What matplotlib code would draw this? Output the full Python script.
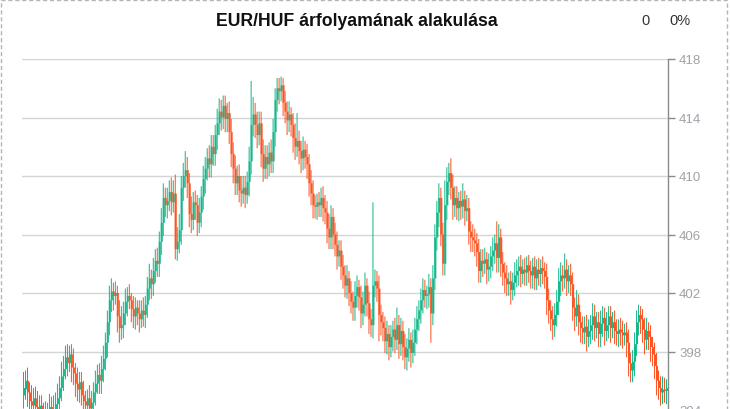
import matplotlib
matplotlib.use("Agg")
import matplotlib.pyplot as plt
from matplotlib.patches import Rectangle

title = "EUR/HUF árfolyamának alakulása"
change_abs = "0"
change_pct = "0%"
y_ticks = [394, 398, 402, 406, 410, 414, 418]

opens = [
    395.0, 395.4, 396.0, 395.2, 394.6, 394.3, 394.8, 394.2, 393.8, 394.3,
    393.9, 393.5, 393.7, 393.9, 394.2, 393.6, 394.0, 394.4, 394.8, 395.5,
    396.3, 396.8, 397.6, 397.2, 397.8, 396.9, 396.5, 395.8, 395.4, 395.9,
    395.0, 394.6, 394.3, 394.8, 394.1, 394.5, 395.2, 395.8, 396.4, 396.0,
    396.8, 397.5, 398.6, 400.0, 401.5, 402.1, 401.8, 402.0, 400.4, 399.6,
    399.8, 400.6, 401.4, 401.8, 401.5, 400.9, 400.4, 401.0, 400.6, 400.2,
    400.8, 400.5, 401.2, 402.3, 403.0, 402.6, 403.5, 404.2, 404.0, 405.5,
    406.8, 408.5, 408.0, 408.3, 408.9, 408.2, 408.8, 405.0, 405.5, 406.3,
    409.2, 410.0, 410.4, 409.5, 407.4, 407.0, 408.2, 408.0, 406.8, 407.5,
    408.6, 409.8, 410.5, 411.2, 410.8, 412.0, 411.5, 412.8, 413.6, 414.4,
    414.0, 414.8, 413.9, 414.3, 413.0, 411.5, 410.5, 409.5, 410.0, 409.0,
    408.8, 409.2, 408.7, 409.6, 411.0, 413.5, 414.2, 413.5, 412.8, 413.6,
    411.5, 410.5, 411.3, 410.8, 411.6, 411.0, 413.0, 415.2, 416.0, 415.8,
    416.2, 415.0, 414.4, 413.8, 414.2, 413.5, 412.6, 412.0, 412.4, 411.7,
    411.2, 411.8, 411.3, 410.8, 409.5, 408.8, 408.0, 407.9, 408.2, 408.0,
    408.5, 407.8, 407.5, 406.4, 405.8, 407.2, 406.0, 405.3, 404.5, 404.9,
    403.8, 403.2, 402.5, 403.0, 402.0, 401.4, 401.0, 401.8, 402.4, 401.7,
    400.6, 401.2, 402.5, 401.3, 400.2, 399.8, 402.5, 402.8, 402.3, 400.5,
    400.0, 399.6, 398.7, 399.2, 398.3, 399.0, 399.5, 398.8, 399.8, 398.5,
    399.4, 398.3, 397.6, 398.2, 398.8, 397.9, 398.6, 399.5, 400.2, 400.8,
    401.5, 402.2, 401.8, 401.9, 402.4, 400.6, 403.0, 405.8, 407.5, 408.5,
    406.0, 404.0, 408.0, 409.6, 410.2, 409.2, 408.0, 408.5, 407.8, 408.3,
    407.9, 408.4, 407.6, 407.8, 406.2, 405.8, 405.6, 405.4, 404.8, 403.5,
    404.2, 404.0, 404.3, 403.6, 403.8, 404.5, 404.9, 405.4, 404.4, 405.8,
    404.0, 403.4, 403.0, 402.6, 402.8, 402.2, 402.7, 403.2, 403.5, 403.8,
    403.3, 403.6, 403.4, 403.9, 403.5, 403.2, 403.8, 403.0, 403.6, 403.3,
    403.7, 403.5, 403.1, 401.5, 400.8, 400.2, 399.8, 400.5, 401.4, 402.8,
    403.2, 403.0, 403.6, 402.8, 403.2, 402.6, 401.0, 400.4, 401.2, 400.0,
    399.6, 399.3, 399.7, 399.0, 399.4, 399.8, 400.4, 399.6, 400.0, 399.2,
    399.9, 400.3, 399.4, 399.8, 400.4, 399.6, 400.0, 399.4, 399.2, 399.5,
    399.3, 399.1, 399.3, 398.6, 397.2, 396.7, 397.3, 398.5, 400.0, 400.5,
    400.2, 399.5, 398.8, 399.4, 399.0, 398.3, 397.8, 397.0, 396.0, 395.5,
    395.2, 395.4, 395.3,
]

highs = [
    396.6, 396.7, 396.9, 395.9, 395.7, 395.5, 395.6, 395.3, 395.0, 395.0,
    394.5, 394.6, 394.5, 395.1, 394.9, 395.0, 395.2, 395.8, 396.3, 397.3,
    397.7, 398.4, 398.5, 398.4, 398.5, 398.2, 397.2, 396.9, 396.6, 396.6,
    396.0, 395.3, 395.4, 395.7, 395.3, 395.9, 396.7, 397.1, 397.2, 397.7,
    398.4, 399.3, 400.8, 402.5, 403.0, 402.7, 402.8, 402.5, 401.5, 401.1,
    401.4, 402.3, 402.4, 402.6, 402.0, 401.8, 401.7, 401.5, 401.5, 401.5,
    401.7, 401.8, 403.1, 404.0, 403.6, 404.4, 405.0, 405.1, 406.2, 407.8,
    409.5, 409.2, 409.2, 409.7, 409.9, 409.7, 410.1, 406.5, 407.4, 410.0,
    410.9, 411.7, 411.3, 410.2, 408.6, 408.9, 409.0, 408.7, 408.5, 409.3,
    410.7, 411.3, 411.9, 412.1, 412.8, 412.8, 413.5, 414.6, 415.3, 415.2,
    415.5, 415.5, 415.0, 415.1, 413.9, 412.3, 411.4, 410.7, 410.8, 410.0,
    410.0, 410.0, 410.3, 412.0, 416.5, 415.4, 415.0, 414.4, 414.4, 414.4,
    412.5, 412.1, 412.1, 412.3, 412.5, 413.9, 416.0, 416.7, 416.7, 416.8,
    416.7, 415.8, 415.1, 415.1, 414.7, 414.3, 413.6, 414.3, 413.1, 412.4,
    412.7, 412.4, 412.2, 411.5, 410.4, 409.7, 408.7, 408.8, 408.9, 409.2,
    409.3, 408.7, 408.3, 407.4, 408.0, 407.8, 406.8, 406.2, 405.6, 405.6,
    404.6, 403.9, 403.9, 403.5, 402.8, 402.1, 402.8, 403.2, 402.9, 402.5,
    402.1, 403.4, 403.0, 402.1, 400.9, 408.2, 403.6, 403.5, 403.2, 401.2,
    400.7, 400.4, 400.1, 399.8, 399.8, 400.1, 400.3, 401.0, 400.5, 400.3,
    400.1, 399.2, 398.9, 399.6, 399.3, 399.5, 400.3, 401.1, 401.5, 402.3,
    403.0, 402.9, 402.5, 403.3, 403.0, 403.9, 406.7, 408.3, 409.5, 409.2,
    406.8, 409.7, 410.6, 410.9, 411.2, 410.1, 409.3, 409.3, 408.9, 409.0,
    409.5, 409.0, 408.7, 408.5, 406.9, 406.7, 406.4, 406.1, 405.7, 405.0,
    405.0, 405.1, 404.8, 404.7, 405.2, 405.8, 406.0, 406.9, 406.7, 406.4,
    404.8, 404.1, 403.9, 403.4, 403.5, 403.4, 404.1, 404.3, 404.5, 404.6,
    404.3, 404.4, 404.5, 404.6, 404.2, 404.4, 404.5, 404.3, 404.4, 404.3,
    404.5, 404.1, 404.0, 402.3, 401.5, 401.1, 401.3, 402.2, 403.7, 404.1,
    403.9, 404.7, 404.3, 403.9, 404.0, 403.4, 401.7, 402.2, 401.9, 400.7,
    400.4, 400.4, 400.5, 400.2, 400.5, 401.3, 401.2, 400.7, 400.7, 400.8,
    401.1, 401.0, 400.7, 401.1, 401.1, 400.7, 400.8, 400.2, 400.2, 400.3,
    400.1, 399.9, 400.0, 399.5, 397.9, 398.1, 399.3, 400.8, 401.2, 401.1,
    400.9, 400.3, 400.3, 400.0, 399.8, 399.0, 398.6, 397.9, 396.7, 396.3,
    396.3, 396.2, 396.1,
]

lows = [
    394.1, 394.7, 394.2, 393.9, 393.6, 393.4, 393.4, 392.9, 393.2, 392.9,
    392.7, 392.7, 393.1, 393.0, 392.8, 392.8, 393.4, 393.5, 394.0, 394.6,
    395.3, 396.1, 396.3, 396.6, 395.9, 395.7, 394.9, 394.6, 394.5, 394.3,
    393.8, 393.4, 393.4, 393.4, 393.3, 393.8, 394.3, 395.1, 395.1, 395.1,
    395.9, 396.7, 397.6, 399.1, 400.7, 400.8, 401.2, 399.3, 398.6, 398.8,
    398.9, 399.8, 400.4, 400.9, 400.0, 399.6, 399.5, 399.8, 399.3, 399.6,
    399.7, 399.6, 400.3, 401.5, 401.6, 401.8, 402.7, 403.1, 403.1, 404.6,
    405.9, 407.2, 407.1, 407.6, 407.3, 407.5, 404.3, 404.2, 404.7, 405.3,
    408.3, 409.2, 408.5, 406.5, 406.1, 406.3, 407.0, 405.9, 406.1, 406.5,
    407.7, 408.8, 409.7, 409.9, 409.9, 410.7, 410.7, 411.8, 412.8, 413.1,
    413.2, 413.0, 413.0, 412.2, 410.6, 409.5, 408.7, 408.7, 408.2, 407.9,
    408.1, 407.8, 408.1, 408.6, 410.1, 412.7, 412.6, 411.9, 412.1, 410.6,
    409.6, 409.8, 409.8, 410.0, 410.2, 410.2, 412.0, 414.4, 414.9, 415.1,
    414.1, 413.6, 412.8, 413.0, 412.7, 411.6, 411.1, 411.3, 410.8, 410.2,
    410.4, 410.5, 409.8, 408.6, 408.0, 407.1, 407.1, 407.0, 407.2, 407.2,
    406.9, 406.7, 405.4, 405.0, 405.0, 405.0, 404.5, 403.6, 403.8, 402.9,
    402.3, 401.7, 401.6, 401.1, 400.6, 400.1, 400.1, 401.0, 400.8, 399.6,
    399.8, 400.4, 400.4, 399.2, 399.0, 398.9, 401.7, 401.4, 398.7, 399.1,
    398.7, 397.9, 397.8, 397.4, 397.6, 398.0, 397.9, 398.1, 397.5, 397.7,
    397.4, 396.8, 396.7, 397.3, 396.9, 397.2, 397.7, 398.5, 399.4, 399.9,
    400.6, 401.0, 400.9, 401.0, 398.6, 399.8, 402.2, 404.9, 406.5, 405.2,
    403.2, 403.2, 407.0, 408.7, 408.4, 407.0, 407.2, 407.0, 406.9, 407.0,
    407.1, 406.6, 406.9, 405.3, 404.8, 404.8, 404.5, 403.8, 402.7, 402.7,
    403.1, 403.3, 402.6, 402.8, 403.0, 403.5, 404.0, 403.4, 403.4, 403.1,
    402.5, 402.0, 401.8, 401.8, 401.2, 401.5, 401.8, 402.4, 402.5, 402.4,
    402.6, 402.5, 402.5, 402.7, 402.3, 402.3, 402.2, 402.2, 402.5, 402.4,
    402.6, 402.3, 400.5, 399.9, 399.4, 398.8, 399.0, 399.7, 400.5, 401.8,
    402.1, 402.3, 401.8, 402.0, 401.8, 400.1, 399.4, 399.7, 399.1, 398.6,
    398.5, 398.5, 398.0, 398.3, 398.5, 398.8, 398.7, 398.9, 398.3, 398.3,
    399.0, 398.4, 398.7, 398.9, 398.6, 398.9, 398.5, 398.4, 398.3, 398.4,
    398.2, 398.4, 397.6, 396.3, 395.9, 395.9, 396.3, 397.7, 399.1, 399.2,
    398.6, 397.8, 398.1, 398.1, 397.3, 397.0, 396.1, 395.0, 394.7, 394.3,
    394.4, 394.5, 394.4,
]

closes = [
    395.5, 396.0, 395.2, 394.6, 394.3, 394.8, 394.2, 393.8, 394.3, 393.9,
    393.5, 393.7, 393.9, 394.2, 393.6, 394.0, 394.4, 394.8, 395.5, 396.3,
    396.8, 397.6, 397.2, 397.8, 396.9, 396.5, 395.8, 395.4, 395.9, 395.0,
    394.6, 394.3, 394.8, 394.1, 394.5, 395.2, 395.8, 396.4, 396.0, 396.8,
    397.5, 398.6, 400.0, 401.5, 402.1, 401.8, 402.0, 400.4, 399.6, 399.8,
    400.6, 401.4, 401.8, 401.5, 400.9, 400.4, 401.0, 400.6, 400.2, 400.8,
    400.5, 401.2, 402.3, 403.0, 402.6, 403.5, 404.2, 404.0, 405.5, 406.8,
    408.5, 408.0, 408.3, 408.9, 408.2, 408.8, 405.0, 405.5, 406.3, 409.2,
    410.0, 410.4, 409.5, 407.4, 407.0, 408.2, 408.0, 406.8, 407.5, 408.6,
    409.8, 410.5, 411.2, 410.8, 412.0, 411.5, 412.8, 413.6, 414.4, 414.0,
    414.8, 413.9, 414.3, 413.0, 411.5, 410.5, 409.5, 410.0, 409.0, 408.8,
    409.2, 408.7, 409.6, 411.0, 413.5, 414.2, 413.5, 412.8, 413.6, 411.5,
    410.5, 411.3, 410.8, 411.6, 411.0, 413.0, 415.2, 416.0, 415.8, 416.2,
    415.0, 414.4, 413.8, 414.2, 413.5, 412.6, 412.0, 412.4, 411.7, 411.2,
    411.8, 411.3, 410.8, 409.5, 408.8, 408.0, 407.9, 408.2, 408.0, 408.5,
    407.8, 407.5, 406.4, 405.8, 407.2, 406.0, 405.3, 404.5, 404.9, 403.8,
    403.2, 402.5, 403.0, 402.0, 401.4, 401.0, 401.8, 402.4, 401.7, 400.6,
    401.2, 402.5, 401.3, 400.2, 399.8, 402.5, 402.8, 402.3, 400.5, 400.0,
    399.6, 398.7, 399.2, 398.3, 399.0, 399.5, 398.8, 399.8, 398.5, 399.4,
    398.3, 397.6, 398.2, 398.8, 397.9, 398.6, 399.5, 400.2, 400.8, 401.5,
    402.2, 401.8, 401.9, 402.4, 400.6, 403.0, 405.8, 407.5, 408.5, 406.0,
    404.0, 408.0, 409.6, 410.2, 409.2, 408.0, 408.5, 407.8, 408.3, 407.9,
    408.4, 407.6, 407.8, 406.2, 405.8, 405.6, 405.4, 404.8, 403.5, 404.2,
    404.0, 404.3, 403.6, 403.8, 404.5, 404.9, 405.4, 404.4, 405.8, 404.0,
    403.4, 403.0, 402.6, 402.8, 402.2, 402.7, 403.2, 403.5, 403.8, 403.3,
    403.6, 403.4, 403.9, 403.5, 403.2, 403.8, 403.0, 403.6, 403.3, 403.7,
    403.5, 403.1, 401.5, 400.8, 400.2, 399.8, 400.5, 401.4, 402.8, 403.2,
    403.0, 403.6, 402.8, 403.2, 402.6, 401.0, 400.4, 401.2, 400.0, 399.6,
    399.3, 399.7, 399.0, 399.4, 399.8, 400.4, 399.6, 400.0, 399.2, 399.9,
    400.3, 399.4, 399.8, 400.4, 399.6, 400.0, 399.4, 399.2, 399.5, 399.3,
    399.1, 399.3, 398.6, 397.2, 396.7, 397.3, 398.5, 400.0, 400.5, 400.2,
    399.5, 398.8, 399.4, 399.0, 398.3, 397.8, 397.0, 396.0, 395.5, 395.2,
    395.4, 395.3, 395.5,
]

UP = "#14b88c"
DOWN = "#fc5424"

W, H = 730, 410
fig = plt.figure(figsize=(W / 100, H / 100), dpi=100)
plt.rcParams['font.family'] = ['Liberation Sans', 'DejaVu Sans']

# plot area: x 22..668 px, 418 at y=60 px, 14.625 px per unit
ymin, ymax = 390, 418
px_per_unit = 58.5 / 4
top_px = 60
bottom_px = top_px + (ymax - ymin) * px_per_unit
ax = fig.add_axes([22 / W, 1 - bottom_px / H, (668 - 22) / W, (bottom_px - top_px) / H])

n = len(closes)
xs = list(range(n))
cols = [UP if c >= o else DOWN for o, c in zip(opens, closes)]
# wick on a pixel centre, body spanning two whole pixels
ax.vlines(xs, lows, highs, colors=cols, linewidth=0.72, zorder=3, snap=False)
bottoms = [min(o, c) for o, c in zip(opens, closes)]
heights = [max(abs(c - o), 0.08) for o, c in zip(opens, closes)]
body_left = [x - 0.25 for x in xs]
bars = ax.bar(body_left, heights, bottom=bottoms, width=1.0, align='edge',
              color=cols, linewidth=0, zorder=4)
for b in bars:
    b.set_snap(False)

ax.set_xlim(-0.75, n - 0.25)
ax.set_ylim(ymin, ymax)
ax.set_yticks(y_ticks)
ax.set_yticklabels([str(t) for t in y_ticks])
ax.yaxis.tick_right()
ax.tick_params(axis='y', direction='out', length=5, width=1, color='#8a8a8a',
               labelcolor='#9ea3a8', labelsize=9.5, pad=3)
ax.set_xticks([])
ax.grid(axis='y', color='#d3d6d9', linewidth=1, zorder=0)
ax.set_axisbelow(True)
for s in ['top', 'left', 'bottom']:
    ax.spines[s].set_visible(False)
ax.spines['right'].set_color('#8a8a8a')
ax.spines['right'].set_linewidth(1)
ax.spines['right'].set_zorder(6)
ax.patch.set_alpha(0)

fig.text(357 / W, 1 - 21 / H, title, ha='center', va='center',
         fontsize=12.7, fontweight='bold', color='#111111')
fig.text(645 / W, 1 - 21 / H, change_abs, ha='center', va='center', fontsize=10.5, color='#333333')
fig.text(680 / W, 1 - 21 / H, change_pct, ha='center', va='center', fontsize=10.5, color='#333333')

border = Rectangle((0.5 / W, -0.05), (727 - 0.5) / W, 1.05 - 0.5 / H,
                   transform=fig.transFigure, fill=False, edgecolor='#b5b5b5',
                   linewidth=1, linestyle=(0, (3, 2)))
fig.patches.append(border)

fig.savefig("out.png", dpi=100)
